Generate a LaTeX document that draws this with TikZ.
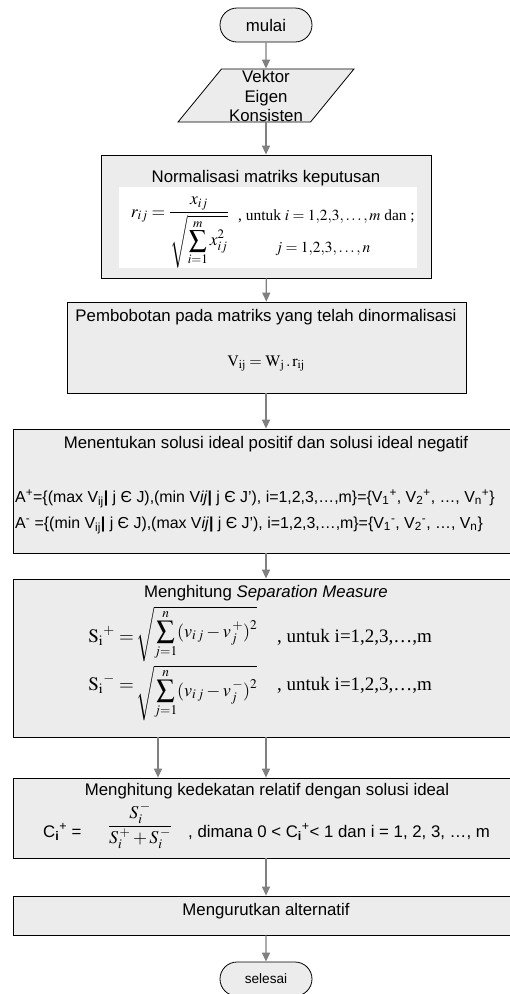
\documentclass[tikz,border=0pt]{standalone}
\usepackage{amsmath}
\usepackage{mathptmx}
\usepackage[no-math]{fontspec}
\setmainfont{Liberation Sans}
\newfontfamily\timesfont{Liberation Serif}
\usetikzlibrary{shapes.geometric,shapes.misc,arrows.meta}
\definecolor{boxgray}{RGB}{236,236,236}
\definecolor{linegray}{RGB}{128,128,128}
\begin{document}
\begin{tikzpicture}[x=1pt,y=-1pt,>={Triangle[width=8pt,length=9pt]},
	font=\fontsize{16.8}{20}\selectfont,
	box/.style={draw,line width=0.8pt,fill=boxgray,inner sep=0pt},
	terminal/.style={draw,line width=0.8pt,fill=boxgray,rounded rectangle,minimum width=92pt,minimum height=34pt,inner sep=0pt},
	io/.style={draw,line width=0.8pt,fill=boxgray,trapezium,trapezium left angle=64,trapezium right angle=116,trapezium stretches=true,minimum width=176pt,minimum height=53pt,inner sep=2pt},
	flow/.style={->,linegray,line width=1.3pt},
	eqn/.style={inner sep=0pt,font=\fontsize{16}{19}\selectfont}]
	\clip (0,0) rectangle (510,994);
	\coordinate (spine) at (266,0);
	\coordinate (spineL) at (158,0);
	% start and input
	\node[terminal] (mulai) at (266,25) {mulai};
	\node[io] (input) at (266,95.5) {};
	\node[align=center,inner sep=0pt,font=\fontsize{16.8}{19.5}\selectfont] (inputT) at (266,96) {Vektor\\Eigen\\Konsisten};
	% normalisation
	\node[box,minimum width=330pt,minimum height=123pt] (norm) at (266,216.5) {};
	\node[anchor=base,inner sep=0pt] (normT) at (266,182) {Normalisasi matriks keputusan};
	\node[fill=white,inner sep=0pt,minimum width=298pt,minimum height=81pt] (normImg) at (268,227.5) {};
	\begin{scope}
		\clip (normImg.north west) rectangle (normImg.south east);
		\node[eqn,anchor=base east,font=\fontsize{17.5}{21}\selectfont] (normF) at (229,217) {$r_{ij} = \dfrac{x_{ij}}{\sqrt{\displaystyle\sum_{i=1}^{m} x_{ij}^{2}}}$};
	\end{scope}
	\node[eqn,anchor=base west,font=\fontsize{15.4}{18}\selectfont] (normA) at (238,220) {\timesfont , untuk $i = 1{,}2{,}3{,}\ldots{,}\,m$ dan ;};
	\node[eqn,anchor=base west,font=\fontsize{15.4}{18}\selectfont] (normB) at (275,252) {$j = 1{,}2{,}3{,}\ldots{,}\,n$};
	% weighting
	\node[box,minimum width=399pt,minimum height=91pt] (bobot) at (266.5,347.5) {};
	\node[anchor=base,inner sep=0pt] (bobotT) at (266,321.5) {Pembobotan pada matriks yang telah dinormalisasi};
	\node[eqn,anchor=base] (bobotF) at (266,366) {$\mathrm{V_{ij} = W_j\,.\,r_{ij}}$};
	% ideal solutions
	\node[box,minimum width=498pt,minimum height=124pt] (ideal) at (262,491) {};
	\node[anchor=base,inner sep=0pt] (idealT) at (266,448) {Menentukan solusi ideal positif dan solusi ideal negatif};
	\node[anchor=base west,inner sep=0pt,font=\fontsize{15.9}{19}\selectfont] (idealP) at (15,502) {A\textsuperscript{+}=\{(max V\textsubscript{ij}\textbf{|} j Є J),(min V\textit{ij}\textbf{|} j Є J’), i=1,2,3,…,m\}=\{V\textsubscript{1}\textsuperscript{+}, V\textsubscript{2}\textsuperscript{+}, …, V\textsubscript{n}\textsuperscript{+}\}};
	\node[anchor=base west,inner sep=0pt,font=\fontsize{15.9}{19}\selectfont] (idealN) at (15,528) {A\textsuperscript{-} =\{(min V\textsubscript{ij}\textbf{|} j Є J),(max V\textit{ij}\textbf{|} j Є J’), i=1,2,3,…,m\}=\{V\textsubscript{1}\textsuperscript{-}, V\textsubscript{2}\textsuperscript{-}, …, V\textsubscript{n}\}};
	% separation measure
	\node[box,minimum width=498pt,minimum height=158pt] (sep) at (262,658) {};
	\node[anchor=base,inner sep=0pt] (sepT) at (266,597.5) {Menghitung \textit{Separation Measure}};
	\node[eqn,anchor=base east,font=\fontsize{19}{22}\selectfont] (sepPs) at (134,642) {$\mathrm{S_i}^{+} =$};
	\node[eqn,anchor=west,font=\fontsize{18}{22}\selectfont] (sepPr) at (136,634) {$\sqrt{\displaystyle\sum_{j=1}^{n}(v_{i\,j} - v_j^{\,+})^2}$};
	\node[eqn,anchor=base west,font=\fontsize{19}{22}\selectfont\timesfont] (sepPt) at (277,642) {, untuk i=1,2,3,…,m};
	\node[eqn,anchor=base east,font=\fontsize{19}{22}\selectfont] (sepNs) at (134,690) {$\mathrm{S_i}^{-} =$};
	\node[eqn,anchor=west,font=\fontsize{18}{22}\selectfont] (sepNr) at (136,693) {$\sqrt{\displaystyle\sum_{j=1}^{n}(v_{i\,j} - v_j^{\,-})^2}$};
	\node[eqn,anchor=base west,font=\fontsize{19}{22}\selectfont\timesfont] (sepNt) at (277,690) {, untuk i=1,2,3,…,m};
	% relative closeness
	\node[box,minimum width=498pt,minimum height=80pt] (rel) at (262,818) {};
	\node[anchor=base,inner sep=0pt] (relT) at (267,795) {Menghitung kedekatan relatif dengan solusi ideal};
	\node[anchor=base west,inner sep=0pt] (relC) at (43,837) {C\textsubscript{\textbf{i}}\textsuperscript{+} =};
	\node[eqn,font=\fontsize{18}{21}\selectfont] (relF) at (140,826) {$\dfrac{S_i^{\,-}}{S_i^{\,+} + S_i^{\,-}}$};
	\node[anchor=base west,inner sep=0pt] (relA) at (188,837) {, dimana 0 < C\textsubscript{\textbf{i}}\textsuperscript{+}< 1 dan i = 1, 2, 3, …, m};
	% ranking and end
	\node[box,minimum width=498pt,minimum height=39pt] (urut) at (262,915.5) {};
	\node[anchor=base,inner sep=0pt] (urutT) at (266,915.5) {Mengurutkan alternatif};
	\node[terminal,font=\fontsize{13.6}{16}\selectfont] (selesai) at (266,979) {selesai};
	% connectors
	\draw[flow] (mulai) -- (input);
	\draw[flow] (input) -- (norm);
	\draw[flow] (norm) -- (bobot);
	\draw[flow] (bobot.south -| spine) -- (ideal.north -| spine);
	\draw[flow] (ideal.south -| spine) -- (sep.north -| spine);
	\draw[flow] (sep.south -| spine) -- (rel.north -| spine);
	\draw[flow] (sep.south -| spineL) -- (rel.north -| spineL);
	\draw[flow] (rel.south -| spine) -- (urut.north -| spine);
	\draw[flow] (urut.south -| spine) -- (selesai);
\end{tikzpicture}
\end{document}
